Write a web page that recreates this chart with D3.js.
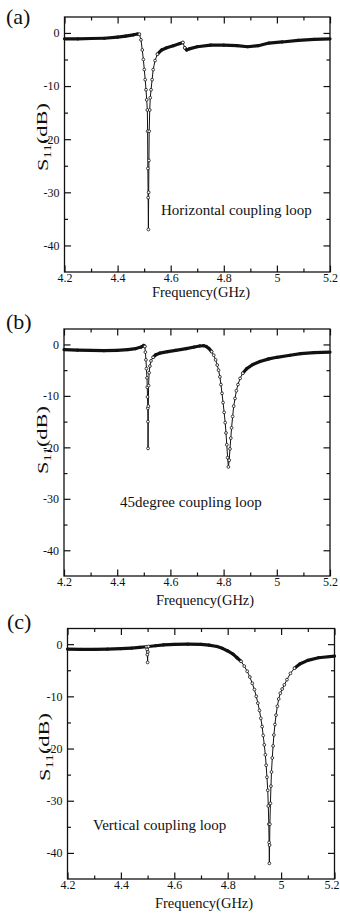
<!DOCTYPE html>
<html>
<head>
<meta charset="utf-8">
<script src="https://cdn.jsdelivr.net/npm/d3@7"></script>
<style>
  body { margin: 0; background: #fff; }
  svg { display: block; }
  .frame { fill: none; stroke: #111; stroke-width: 1.3; }
  .tick line { stroke: #111; stroke-width: 1.2; }
  text { font-family: 'Liberation Serif', 'Times New Roman', serif; fill: #111; }
</style>
</head>
<body>
<script>
// (a) horizontal coupling loop
const freqA = [4.20, 4.25, 4.30, 4.35, 4.40, 4.43, 4.46, 4.475, 4.482, 4.488, 4.493, 4.497, 4.5006, 4.504, 4.507, 4.5096, 4.512, 4.513, 4.514, 4.515, 4.516, 4.517, 4.518, 4.519, 4.521, 4.523, 4.526, 4.530, 4.534, 4.541, 4.550, 4.566, 4.585, 4.610, 4.635, 4.646, 4.653, 4.660, 4.670, 4.700, 4.750, 4.800, 4.850, 4.890, 4.930, 4.970, 5.020, 5.080, 5.140, 5.200]
const dbA = [-1.1, -1.1, -1.05, -1.0, -0.8, -0.6, -0.35, -0.2, -0.25, -1.3, -3.2, -5.0, -6.9, -8.8, -10.7, -12.6, -14.5, -18.5, -25.5, -31.0, -37.0, -30.0, -24.0, -18.5, -14.5, -12.2, -10.7, -8.8, -6.9, -5.2, -4.0, -3.2, -2.8, -2.4, -2.0, -1.8, -2.8, -3.2, -3.0, -2.6, -2.3, -2.3, -2.4, -2.6, -2.4, -1.9, -1.7, -1.4, -1.2, -1.1]

// (b) 45 degree coupling loop
const freqB = [4.20, 4.25, 4.30, 4.35, 4.40, 4.44, 4.47, 4.49, 4.500, 4.504, 4.506, 4.508, 4.510, 4.512, 4.513, 4.514, 4.515, 4.5155, 4.516, 4.517, 4.518, 4.520, 4.523, 4.527, 4.535, 4.545, 4.560, 4.590, 4.620, 4.660, 4.690, 4.710, 4.725, 4.735, 4.745, 4.755, 4.763, 4.770, 4.776, 4.781, 4.786, 4.790, 4.794, 4.798, 4.802, 4.806, 4.809, 4.812, 4.815, 4.818, 4.821, 4.824, 4.827, 4.830, 4.834, 4.838, 4.843, 4.848, 4.854, 4.862, 4.872, 4.887, 4.910, 4.937, 4.970, 5.000, 5.050, 5.090, 5.140, 5.200]
const dbB = [-1.0, -1.1, -1.15, -1.2, -1.15, -1.0, -0.8, -0.5, -0.2, -0.4, -1.5, -3.0, -4.7, -6.5, -8.3, -10.2, -12.4, -15.0, -20.2, -12.0, -8.0, -5.5, -4.2, -3.2, -2.5, -2.0, -1.7, -1.4, -1.15, -0.8, -0.5, -0.3, -0.25, -0.4, -0.8, -1.4, -2.1, -3.0, -4.0, -5.0, -6.3, -7.8, -9.5, -11.3, -13.2, -15.2, -17.2, -19.5, -22.0, -23.8, -22.5, -20.3, -18.2, -16.2, -14.0, -12.0, -10.5, -9.0, -7.8, -6.6, -5.6, -4.7, -3.9, -3.3, -2.8, -2.5, -2.1, -1.8, -1.6, -1.5]

// (c) vertical coupling loop
const freqC = [4.20, 4.25, 4.30, 4.35, 4.40, 4.44, 4.47, 4.495, 4.498, 4.499, 4.500, 4.501, 4.503, 4.530, 4.560, 4.600, 4.650, 4.700, 4.730, 4.760, 4.780, 4.800, 4.820, 4.835, 4.850, 4.862, 4.873, 4.883, 4.892, 4.900, 4.907, 4.913, 4.919, 4.924, 4.929, 4.933, 4.937, 4.941, 4.944, 4.947, 4.950, 4.952, 4.954, 4.955, 4.956, 4.957, 4.958, 4.960, 4.962, 4.964, 4.967, 4.970, 4.973, 4.977, 4.981, 4.986, 4.991, 4.997, 5.004, 5.012, 5.022, 5.035, 5.050, 5.070, 5.100, 5.140, 5.200]
const dbC = [-0.95, -1.0, -1.0, -0.95, -0.85, -0.75, -0.6, -0.5, -1.0, -2.0, -3.5, -1.5, -0.45, -0.3, -0.15, -0.05, 0.0, -0.05, -0.2, -0.45, -0.8, -1.3, -1.9, -2.6, -3.3, -4.2, -5.2, -6.3, -7.5, -8.7, -10.0, -11.3, -12.7, -14.2, -15.8, -17.5, -19.3, -21.2, -23.2, -25.5, -28.0, -31.0, -34.5, -38.0, -42.0, -38.5, -34.5, -30.5, -27.2, -24.5, -21.8, -19.5, -17.4, -15.4, -13.6, -11.9, -10.5, -9.4, -8.6, -7.8, -6.8, -5.6, -4.6, -3.8, -3.1, -2.6, -2.3]

const xTicks = [4.2, 4.4, 4.6, 4.8, 5, 5.2]
const xMinor = [4.3, 4.5, 4.7, 4.9, 5.1]
const yTicks = [0, -10, -20, -30, -40]
const yMinor = [-5, -15, -25, -35]
const xDomain = [4.2, 5.2]
const yDomain = [-45, 3]

const panelTags = ['(a)', '(b)', '(c)']
const loopLabels = ['Horizontal coupling loop', '45degree coupling loop', 'Vertical coupling loop']
const xAxisLabel = 'Frequency(GHz)'

const width = 340
const height = 914

// frame boxes and text anchors for each panel
const panels = [
  { freq: freqA, db: dbA, left: 64.5, right: 330, top: 17, bottom: 272,
    tag: [6, 24], note: [161, 215], xlab: [201, 297], ylab: [43, 137] },
  { freq: freqB, db: dbB, left: 64, right: 330, top: 329, bottom: 576,
    tag: [6, 329], note: [120, 507], xlab: [205, 605], ylab: [43, 440] },
  { freq: freqC, db: dbC, left: 67.5, right: 334.5, top: 628.5, bottom: 879,
    tag: [7, 629], note: [93, 830], xlab: [204, 908], ylab: [45, 747] }
]

const svg = d3.select('body')
  .append('svg')
  .attr('width', width)
  .attr('height', height)

panels.forEach((p, k) => {
  const g = svg.append('g')

  const xScale = d3.scaleLinear().domain(xDomain).range([p.left, p.right])
  const yScale = d3.scaleLinear().domain(yDomain).range([p.bottom, p.top])

  const axis = (gen, tr, vals, size, pad, fmt) => {
    const a = g.append('g')
      .attr('transform', tr)
      .call(gen.tickValues(vals).tickSize(size).tickPadding(pad).tickFormat(fmt))
    a.select('.domain').remove()
    a.attr('font-family', null).attr('font-size', null)
    a.selectAll('text').style('font-size', '12px')
    return a
  }
  const none = () => ''

  // major + minor ticks, all pointing inward
  const bottomAxis = axis(d3.axisBottom(xScale), `translate(0,${p.bottom})`, xTicks, -6.5, 1.5, d => String(d))
  // keep the last label inside the page
  bottomAxis.selectAll('text')
    .attr('dx', d => Math.min(0, width - 0.5 - (xScale(d) + 8)))
  axis(d3.axisBottom(xScale), `translate(0,${p.bottom})`, xMinor, -3.5, 0, none)
  axis(d3.axisTop(xScale), `translate(0,${p.top})`, xTicks, -6.5, 0, none)
  axis(d3.axisTop(xScale), `translate(0,${p.top})`, xMinor, -3.5, 0, none)
  axis(d3.axisLeft(yScale), `translate(${p.left},0)`, yTicks, -6.5, 5, d => String(d))
  axis(d3.axisLeft(yScale), `translate(${p.left},0)`, yMinor, -3.5, 0, none)
  axis(d3.axisRight(yScale), `translate(${p.right},0)`, yTicks, -6.5, 0, none)
  axis(d3.axisRight(yScale), `translate(${p.right},0)`, yMinor, -3.5, 0, none)

  g.append('rect')
    .attr('class', 'frame')
    .attr('x', p.left)
    .attr('y', p.top)
    .attr('width', p.right - p.left)
    .attr('height', p.bottom - p.top)

  // curve: thick where the sweep points crowd together, thin with open markers where it is steep
  const pts = p.freq.map((f, i) => [xScale(f), yScale(p.db[i])])
  const segs = d3.pairs(pts).map(([a, b]) => ({ a, b, steep: Math.abs(b[1] - a[1]) > 1.2 * Math.abs(b[0] - a[0]) }))

  g.append('g')
    .selectAll('line')
    .data(segs)
    .enter()
    .append('line')
    .attr('x1', d => d.a[0])
    .attr('y1', d => d.a[1])
    .attr('x2', d => d.b[0])
    .attr('y2', d => d.b[1])
    .attr('stroke', '#111')
    .attr('stroke-linecap', 'round')
    .attr('stroke-width', d => d.steep ? 1 : 3.2)

  const marked = pts.filter((d, i) => (segs[i - 1] && segs[i - 1].steep) || (segs[i] && segs[i].steep))

  g.append('g')
    .selectAll('circle')
    .data(marked)
    .enter()
    .append('circle')
    .attr('cx', d => d[0])
    .attr('cy', d => d[1])
    .attr('r', 1.4)
    .attr('fill', '#fff')
    .attr('stroke', '#111')
    .attr('stroke-width', 0.8)

  // texts
  g.append('text')
    .attr('x', p.tag[0])
    .attr('y', p.tag[1])
    .style('font-size', '22px')
    .text(panelTags[k])

  g.append('text')
    .attr('x', p.note[0])
    .attr('y', p.note[1])
    .style('font-size', '15px')
    .text(loopLabels[k])

  g.append('text')
    .attr('x', p.xlab[0])
    .attr('y', p.xlab[1])
    .attr('text-anchor', 'middle')
    .style('font-size', '14.5px')
    .text(xAxisLabel)

  // S11(dB), stretched along its baseline as in the scan
  const yl = g.append('text')
    .attr('transform', `translate(${p.ylab[0]},${p.ylab[1]}) rotate(-90)`)
    .attr('text-anchor', 'middle')
    .attr('dy', '0.35em')
    .attr('textLength', 68)
    .attr('lengthAdjust', 'spacingAndGlyphs')
    .style('font-size', '15px')
  yl.append('tspan').text('S')
  yl.append('tspan').attr('dy', '0.3em').style('font-size', '10px').text('11')
  yl.append('tspan').attr('dy', '-0.3em').text('(dB)')
})
</script>
</body>
</html>
